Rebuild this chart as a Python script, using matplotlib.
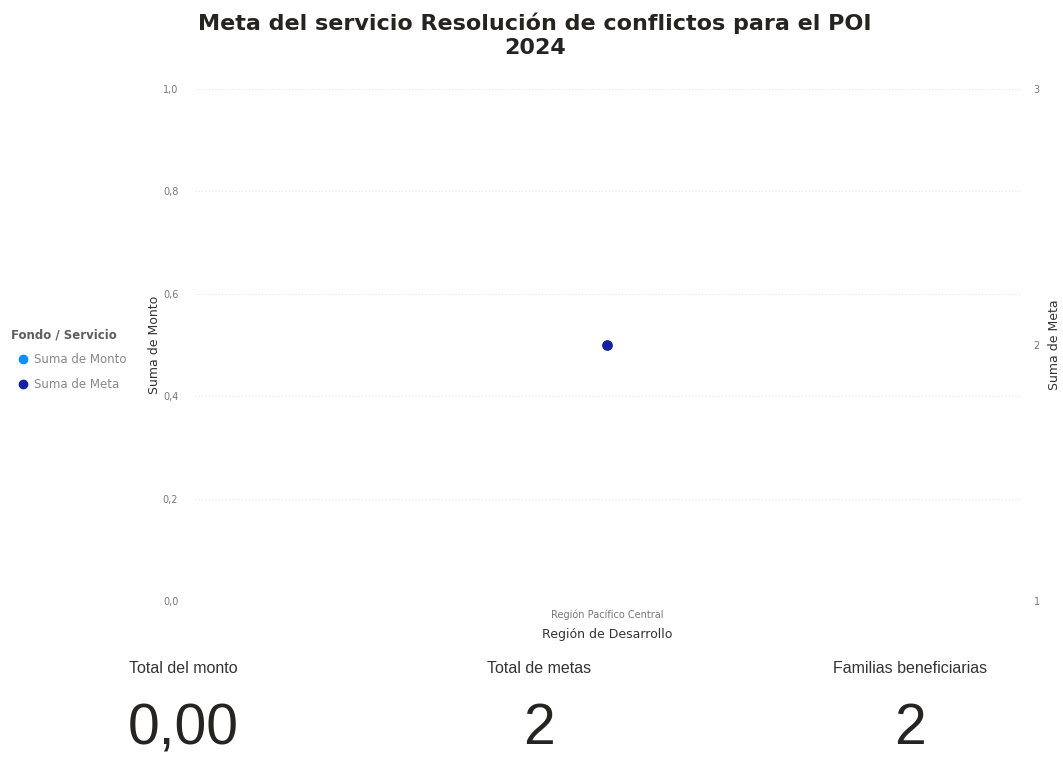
import matplotlib.pyplot as plt
from matplotlib.lines import Line2D

region = ["Región Pacífico Central"]
suma_monto = [0.0]
suma_meta = [2]
kpi_labels = ["Total del monto", "Total de metas", "Familias beneficiarias"]
kpi_values = ["0,00", "2", "2"]

c_monto = "#118DFF"
c_meta = "#12239E"

fig = plt.figure(figsize=(10.63, 7.61), dpi=100)

ax = fig.add_axes([0.1834, 0.2103, 0.776, 0.6727])
ax2 = ax.twinx()

x = list(range(len(region)))
ax.set_xlim(-0.5, len(region) - 0.5)
ax.set_ylim(0, 1)
ax2.set_ylim(1, 3)

ax2.scatter(x, suma_meta, s=45, color=c_meta, zorder=3)

ax.set_yticks([0, 0.2, 0.4, 0.6, 0.8, 1.0])
ax.set_yticklabels(["0,0", "0,2", "0,4", "0,6", "0,8", "1,0"])
ax2.set_yticks([1, 2, 3])
ax.grid(axis="y", color="#e6e6e6", linestyle=(0, (1, 2)), linewidth=0.8)
ax.set_xticks(x)
ax.set_xticklabels(region)

for a in (ax, ax2):
    for s in a.spines.values():
        s.set_visible(False)
    a.tick_params(length=0, labelsize=7, labelcolor="#777777")
ax.tick_params(axis="y", pad=12)
ax2.tick_params(axis="y", pad=10)
ax.tick_params(axis="x", pad=6)

ax.set_xlabel("Región de Desarrollo", fontsize=9, color="#333333", labelpad=6)
ax.set_ylabel("Suma de Monto", fontsize=9, color="#333333", labelpad=1)
ax2.set_ylabel("Suma de Meta", fontsize=9, color="#333333", labelpad=6)

fig.text(0.503, 0.954, "Meta del servicio Resolución de conflictos para el POI\n2024",
         ha="center", va="center", fontsize=16, fontweight="bold",
         family="DejaVu Sans", color="#252423", linespacing=1.25)

# legend
handles = [Line2D([], [], marker="o", linestyle="", color=c, markersize=6)
           for c in (c_monto, c_meta)]
leg = fig.legend(handles, ["Suma de Monto", "Suma de Meta"], title="Fondo / Servicio",
                 loc="upper left", bbox_to_anchor=(0.006, 0.575), frameon=False,
                 fontsize=8.5, title_fontsize=8.5, handletextpad=-0.1,
                 labelspacing=1.0, borderaxespad=0, alignment="left")
leg.get_title().set_fontweight("bold")
leg.get_title().set_color("#605E5C")
for t in leg.get_texts():
    t.set_color("#888888")

# KPI cards
kpi_x = [0.172, 0.507, 0.856]
for xk, lab, val in zip(kpi_x, kpi_labels, kpi_values):
    fig.text(xk, 0.121, lab, ha="center", va="center", fontsize=11.5,
             family="Liberation Sans", color="#333333")
    fig.text(xk, 0.022, val, ha="center", va="baseline", fontsize=41,
             family="Liberation Sans", color="#252423")

fig.savefig("out.png", dpi=100, facecolor="white")
